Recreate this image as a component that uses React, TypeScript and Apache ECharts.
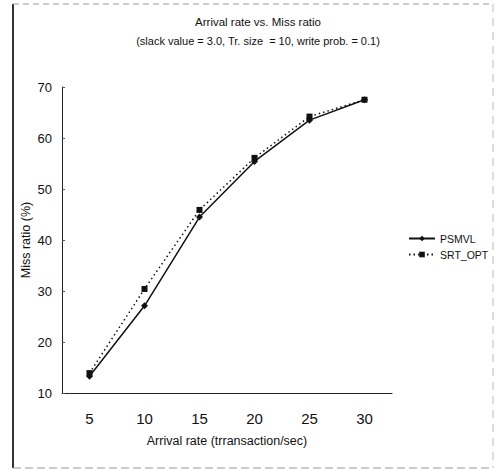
import React, { useEffect, useRef } from "react";
import * as echarts from "echarts";

const arrivalRates = ["5", "10", "15", "20", "25", "30"];
const psmvl = [13.3, 27.1, 44.5, 55.4, 63.5, 67.5];
const srtOpt = [13.9, 30.4, 45.9, 56.1, 64.2, 67.5];
const titleText = "Arrival rate vs. Miss ratio";
const subtitleText = "(slack value = 3.0, Tr. size  = 10, write prob. = 0.1)";

const FONT = "'Liberation Sans', Arial, sans-serif";

export default function App() {
  const ref = useRef<HTMLDivElement>(null);

  useEffect(() => {
    if (!ref.current) return;
    const chart = echarts.init(ref.current, null, { renderer: "svg" });
    chart.setOption({
      animation: false,
      backgroundColor: "#ffffff",
      title: {
        text: titleText,
        subtext: subtitleText,
        left: 253,
        textAlign: "center",
        top: 11,
        itemGap: 7,
        textStyle: { fontFamily: FONT, fontSize: 11.5, fontWeight: "normal", color: "#111" },
        subtextStyle: { fontFamily: FONT, fontSize: 11, color: "#111" },
      },
      legend: {
        orient: "vertical",
        left: 403,
        top: 228,
        itemGap: 5,
        itemWidth: 26,
        itemHeight: 7,
        textStyle: { fontFamily: FONT, fontSize: 10.5, color: "#111" },
        data: ["PSMVL", "SRT_OPT"],
      },
      grid: { left: 62, right: 103, top: 87, bottom: 77 },
      xAxis: {
        type: "category",
        data: arrivalRates,
        boundaryGap: true,
        name: "Arrival rate (trransaction/sec)",
        nameLocation: "middle",
        nameGap: 41,
        nameMoveOverlap: false,
        nameTextStyle: { fontFamily: FONT, fontSize: 12.5, color: "#111" },
        axisLine: { lineStyle: { color: "#222", width: 1 } },
        axisTick: { inside: true, length: 4, lineStyle: { color: "#222" } },
        axisLabel: { fontFamily: FONT, fontSize: 15, color: "#111", margin: 18 },
        splitLine: { show: false },
      },
      yAxis: {
        type: "value",
        min: 10,
        max: 70,
        interval: 10,
        name: "Miss ratio (%)",
        nameLocation: "middle",
        nameGap: 30,
        nameMoveOverlap: false,
        nameTextStyle: { fontFamily: FONT, fontSize: 12.5, color: "#111" },
        axisLine: { show: true, lineStyle: { color: "#222", width: 1 } },
        axisTick: { show: true, inside: true, length: 3, lineStyle: { color: "#555" } },
        axisLabel: { fontFamily: FONT, fontSize: 13, color: "#111", margin: 10 },
        splitLine: { show: false },
      },
      series: [
        {
          name: "PSMVL",
          type: "line",
          data: psmvl,
          symbol: "diamond",
          symbolSize: 7,
          lineStyle: { color: "#111", width: 1.5, type: "solid" },
          itemStyle: { color: "#111" },
        },
        {
          name: "SRT_OPT",
          type: "line",
          data: srtOpt,
          symbol: "rect",
          symbolSize: 6,
          lineStyle: { color: "#111", width: 1.5, type: [1.5, 3] },
          itemStyle: { color: "#111" },
        },
      ],
      graphic: [
        { type: "line", shape: { x1: 13, y1: 4, x2: 13, y2: 468 }, style: { stroke: "#333", lineWidth: 2 } },
        { type: "line", shape: { x1: 13, y1: 4, x2: 493, y2: 4 }, style: { stroke: "#999", lineWidth: 1, lineDash: [6, 4] } },
        { type: "line", shape: { x1: 493, y1: 4, x2: 493, y2: 468 }, style: { stroke: "#bbb", lineWidth: 1, lineDash: [8, 6] } },
        { type: "line", shape: { x1: 13, y1: 468, x2: 493, y2: 468 }, style: { stroke: "#999", lineWidth: 1, lineDash: [8, 4] } },
      ],
    });
    return () => chart.dispose();
  }, []);

  return <div ref={ref} style={{ width: 495, height: 470, position: "absolute", left: 0, top: 0 }} />;
}
